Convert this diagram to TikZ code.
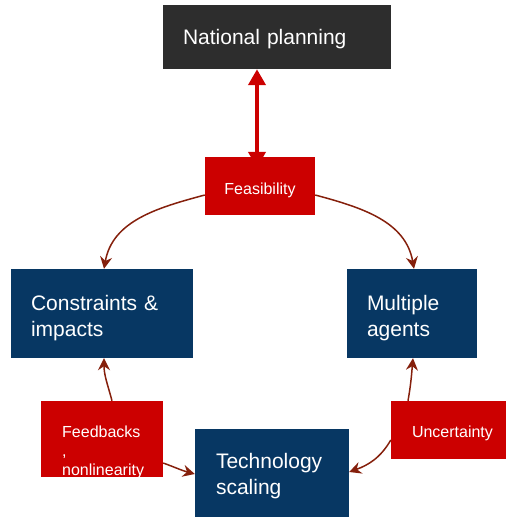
\documentclass[tikz,border=0pt]{standalone}
\usepackage{fontspec}
\setmainfont{Liberation Sans}
\usetikzlibrary{arrows.meta}
\definecolor{navy}{HTML}{073763}
\definecolor{alertred}{HTML}{CC0000}
\definecolor{charcoal}{HTML}{2D2D2D}
\definecolor{berry}{HTML}{85200C}
\pgfdeclarelayer{background}
\pgfsetlayers{background,main}

\begin{document}
\begin{tikzpicture}[x=1pt,y=-1pt,
  box/.style={rectangle, inner ysep=0pt, text=white, align=left},
  % height/depth of the text block set by hand to place the first baseline
  textbox/.style 2 args={text height=#1, text depth=#2},
  bigtext/.style={font=\fontsize{21}{26}\selectfont},
  smalltext/.style={font=\fontsize{16}{19}\selectfont},
  link/.style={draw=berry, line width=1.5pt, -{Stealth[length=12pt,width=12pt,inset=4pt]}},
]
\useasboundingbox (0,0) rectangle (506,517);

% boxes
\node[box, bigtext, textbox={16pt}{2pt}, fill=charcoal, minimum width=228pt, minimum height=64pt,
      inner xsep=20pt, text width=188pt] (nat) at (277,37) {National planning};
\node[box, smalltext, textbox={17pt}{0pt}, fill=alertred, minimum width=110pt, minimum height=58pt,
      inner xsep=5pt, text width=100pt, align=center] (feas) at (260,186) {Feasibility};
\node[box, bigtext, textbox={15pt}{22pt}, fill=navy, minimum width=182pt, minimum height=89pt,
      inner xsep=20pt, text width=142pt] (cons) at (102,313.5) {Constraints \&\\impacts};
\node[box, bigtext, textbox={15pt}{22pt}, fill=navy, minimum width=130pt, minimum height=89pt,
      inner xsep=20pt, text width=90pt] (agents) at (412,313.5) {Multiple\\agents};
\node[box, bigtext, textbox={15pt}{25pt}, fill=navy, minimum width=154pt, minimum height=88pt,
      inner xsep=21pt, text width=112pt] (tech) at (272,473) {Technology\\scaling};
\node[box, fill=alertred, minimum width=122pt, minimum height=76pt, inner sep=0pt] (fb) at (102,439) {};
\node[box, smalltext, anchor=base west, inner sep=0pt, text width=90pt] (fbtext) at (62,437)
      {Feedbacks\\,\\nonlinearity};
\node[box, smalltext, textbox={16pt}{2pt}, fill=alertred, minimum width=130pt, minimum height=58pt,
      inner xsep=21pt, text width=88pt] (unc) at (456,430) {Uncertainty};

% two-way link between planning and feasibility, tucked under the boxes
\begin{pgfonlayer}{background}
\draw[alertred, line width=4.5pt,
      {Triangle[length=16pt,width=17pt]}-{Triangle[length=16pt,width=17pt]}]
  ([xshift=-20pt]nat.south) -- ([xshift=-3pt,yshift=-11pt]feas.north);
\end{pgfonlayer}

% feedback links
\draw[link] ([yshift=-9pt]feas.west) to[out=195,in=80] ([xshift=2pt]cons.north);
\draw[link] ([yshift=-9pt]feas.east) to[out=-15,in=100] ([xshift=2pt]agents.north);
\draw[link] ([xshift=10pt]fb.north) to[out=105,in=-90] ([xshift=2pt]cons.south);
\draw[link] ([yshift=-24pt]fb.east) to[out=-20,in=165] ([yshift=-1pt]tech.west);
\draw[link] ([xshift=-48pt]unc.north) to[out=80,in=-95] ([xshift=1pt]agents.south);
\draw[link] ([yshift=-10pt]unc.west) to[out=240,in=20] ([yshift=1pt]tech.east);
\end{tikzpicture}
\end{document}
